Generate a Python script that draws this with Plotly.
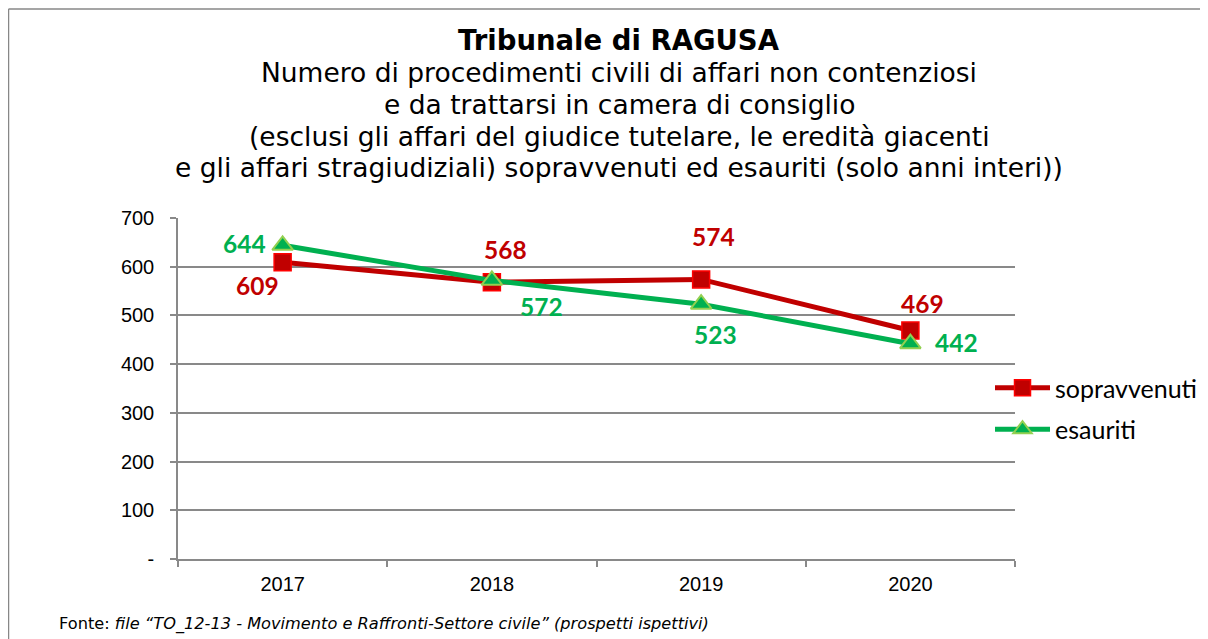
import plotly.graph_objects as go

years = ["2017", "2018", "2019", "2020"]
sopravvenuti = [609, 568, 574, 469]
esauriti = [644, 572, 523, 442]
y_ticks = [0, 100, 200, 300, 400, 500, 600, 700]
y_ticktext = ["-", "100", "200", "300", "400", "500", "600", "700"]

RED = "#C00000"
GREEN = "#00B050"
W, H = 1208, 639
OFF = 8  # page offset of the rendered figure
PL, PR, PT, PB = 178 - OFF, 1015 - OFF, 218 - OFF, 559 - OFF  # plot area in figure pixels


def px(xpix):  # target page pixel -> paper x
    return (xpix - OFF - PL) / (PR - PL)


def py(ypix):  # target page pixel -> paper y
    return (PB - (ypix - OFF)) / (PB - PT)


fig = go.Figure()
fig.add_trace(go.Scatter(
    x=years, y=sopravvenuti, name="sopravvenuti", mode="lines+markers", legendgroup="a",
    line=dict(color=RED, width=5),
    marker=dict(symbol="square", size=17, color=RED, line=dict(color="#FF0000", width=1.5)),
))
fig.add_trace(go.Scatter(
    x=years, y=esauriti, name="esauriti", mode="lines+markers", legendgroup="b",
    line=dict(color=GREEN, width=5),
    marker=dict(symbol="triangle-up", size=18, color=GREEN, line=dict(color="#92D050", width=2)),
))

# data labels (offsets in pixels)
red_off = [(-25, -23), (14, 33), (12, 43), (12, 27)]
green_off = [(-38, 2), (50, -26), (14, -30), (46, 1)]
LAB_FAM = "Lato, Open Sans, sans-serif"
for i, v in enumerate(sopravvenuti):
    fig.add_annotation(x=i, y=v, xref="x", yref="y", text=f"<b>{v}</b>", showarrow=False,
                       xshift=red_off[i][0], yshift=red_off[i][1],
                       font=dict(family=LAB_FAM, size=24.5, color=RED))
for i, v in enumerate(esauriti):
    fig.add_annotation(x=i, y=v, xref="x", yref="y", text=f"<b>{v}</b>", showarrow=False,
                       xshift=green_off[i][0], yshift=green_off[i][1],
                       font=dict(family=LAB_FAM, size=24.5, color=GREEN))

# titles
title_lines = [
    ("<b>Tribunale di RAGUSA</b>", 40, 27.5),
    ("Numero di procedimenti civili di affari non contenziosi", 73, 26.5),
    ("e da trattarsi in camera di consiglio", 104, 26.5),
    ("(esclusi gli affari del giudice tutelare, le eredità giacenti", 136, 26.5),
    ("e gli affari stragiudiziali) sopravvenuti ed esauriti (solo anni interi))", 168, 26.5),
]
for txt, ypix, sz in title_lines:
    fig.add_annotation(xref="paper", yref="paper", x=px(619), y=py(ypix),
                       text=txt, showarrow=False, xanchor="center", yanchor="middle",
                       font=dict(family="DejaVu Sans, Verdana, sans-serif", size=sz, color="#000000"))

# footnote
fig.add_annotation(xref="paper", yref="paper", x=px(57), y=py(624), xanchor="left", yanchor="middle",
                   showarrow=False,
                   text="Fonte: <i>file “TO_12-13 - Movimento e Raffronti-Settore civile” (prospetti ispettivi)</i>",
                   font=dict(family="DejaVu Sans, Verdana, sans-serif", size=16.2, color="#000000"))

# chart border (top and left edges visible)
fig.add_shape(type="line", xref="paper", yref="paper", x0=px(8.5), x1=px(1230), y0=py(9), y1=py(9),
              line=dict(color="#878787", width=1.5))
fig.add_shape(type="line", xref="paper", yref="paper", x0=px(8.5), x1=px(8.5), y0=py(9), y1=py(660),
              line=dict(color="#878787", width=1.5))

fig.update_layout(
    width=W, height=H,
    margin=dict(l=PL, r=W - PR, t=PT, b=H - PB, autoexpand=False),
    paper_bgcolor="white", plot_bgcolor="white",
    showlegend=True,
    legend=dict(xref="container", yref="container", x=(990 - OFF) / W, y=1 - (365 - OFF) / H,
                xanchor="left", yanchor="top",
                font=dict(family=LAB_FAM, size=25, color="#000000"),
                itemwidth=55, tracegroupgap=6, traceorder="grouped", bgcolor="rgba(0,0,0,0)"),
    xaxis=dict(
        type="category", range=[-0.5, 3.5], showgrid=False,
        showline=True, linecolor="#898989", linewidth=1.5,
        ticks="outside", tickson="boundaries", ticklen=6, tickcolor="#898989", tickwidth=1.5,
        tickfont=dict(family="Liberation Sans, Arial, sans-serif", size=20, color="#000000"),
        ticklabelstandoff=6, fixedrange=True,
    ),
    yaxis=dict(
        range=[0, 700], tickvals=y_ticks, ticktext=y_ticktext,
        showgrid=True, gridcolor="#898989", gridwidth=1.5,
        showline=True, linecolor="#898989", linewidth=1.5,
        ticks="outside", ticklen=6, tickcolor="#898989", tickwidth=1.5,
        tickfont=dict(family="Liberation Sans, Arial, sans-serif", size=20, color="#000000"),
        zeroline=False, ticklabelstandoff=12,
    ),
)

fig.write_html("out.html")
